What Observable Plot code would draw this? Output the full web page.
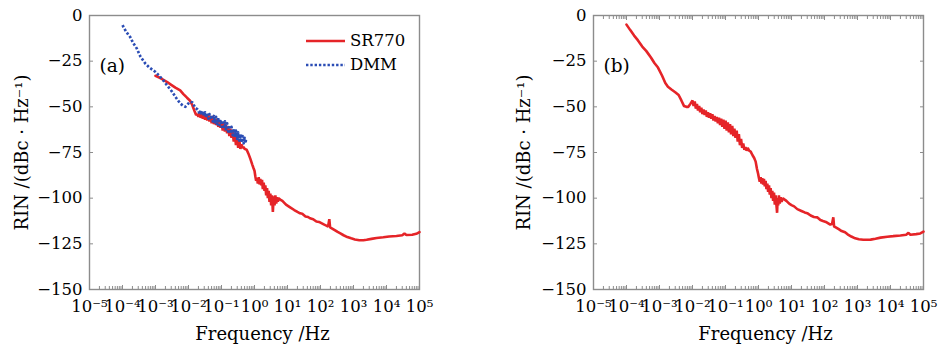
<!DOCTYPE html>
<html><head><meta charset="utf-8">
<script src="https://cdn.jsdelivr.net/npm/d3@7"></script>
<script src="https://cdn.jsdelivr.net/npm/@observablehq/plot@0.6"></script>
<style>
body{margin:0;background:#fff;}
#wrap{position:relative;width:940px;height:348px;display:flex;}
#wrap svg{display:block;}
.legend{position:absolute;font-family:"DejaVu Serif";font-size:16.5px;color:#000;line-height:24px;}
.legend div{display:flex;align-items:center;}
.legend svg{margin-right:3px;}
</style></head><body><div id="wrap"></div>
<script>
const xTicks = [1e-5,1e-4,1e-3,1e-2,1e-1,1e0,1e1,1e2,1e3,1e4,1e5];
const xTickLabels = ["10⁻⁵","10⁻⁴","10⁻³","10⁻²","10⁻¹","10⁰","10¹","10²","10³","10⁴","10⁵"];
const yTicks = [0,-25,-50,-75,-100,-125,-150];
const yTickLabels = ["0","−25","−50","−75","−100","−125","−150"];
const seriesNames = ["SR770","DMM"];
const panelTags = ["(a)","(b)"];
const xLabel = "Frequency /Hz";
const yLabel = "RIN /(dBc · Hz⁻¹)";

// [frequency Hz, RIN dBc/Hz]
const sr770a = [[1e-3,-33],[1.5e-3,-34.5],[2.2e-3,-36.3],[3e-3,-38],[4e-3,-39.5],[5.6e-3,-41],[7e-3,-43],[9e-3,-45],[1.1e-2,-46.5],[1.3e-2,-49],[1.5e-2,-52],[1.7e-2,-54.5],[1.85e-2,-54],
[0.02,-55.5],[0.0216,-53.5],[0.0233,-56],[0.0252,-54],[0.0272,-56.5],[0.0294,-54.5],[0.0317,-57],[0.0343,-55],[0.037,-57.5],[0.04,-54.5],[0.0432,-58],[0.0466,-55.5],[0.0504,-59],[0.0544,-55],[0.0588,-59.5],[0.0635,-57],[0.0686,-60],[0.074,-56.5],[0.08,-61],[0.0864,-58],[0.0933,-61.5],[0.1008,-58.5],[0.1088,-63],[0.1175,-59],[0.127,-63.5],[0.137,-60],[0.148,-64.5],[0.16,-61],[0.173,-66],[0.186,-62],[0.201,-67],[0.218,-63.5],[0.235,-69],[0.254,-64.5],[0.274,-71],[0.296,-66],[0.32,-72.5],[0.345,-68],[0.373,-73],[0.403,-70.5],[0.435,-72.5],[0.47,-72],[0.5,-73],
[0.58,-73.5],[0.65,-75.5],[0.75,-78.5],[0.85,-81.5],[0.93,-83.5],
[1.0,-85],[1.06,-88],[1.12,-90.5],[1.19,-89],[1.26,-92],[1.34,-88.5],[1.42,-92.5],[1.5,-89.5],[1.6,-93],[1.69,-90],[1.79,-95],[1.9,-91.5],[2.01,-96],[2.13,-93],[2.26,-98.5],[2.4,-94.5],[2.54,-100],[2.69,-96],[2.85,-102],[3.02,-97.5],[3.2,-104],[3.4,-98.5],[3.6,-107.5],[3.82,-99],[4.05,-104],[4.29,-98.5],[4.55,-103],[4.82,-99.5],[5.1,-102],[5.4,-100],[6.0,-100.8],[7.0,-101.5],
[9,-103.5],[12,-105],[16,-106.5],[20,-107.5],[24,-108.3],[28,-108.5],[35,-110],[42,-110.3],[48,-111],[60,-111.5],[75,-112.8],[90,-113],[110,-113.8],[130,-114.5],[150,-115],[170,-115.5],[185,-111.5],[195,-116],[220,-116.5],[270,-117.5],[330,-118.5],[400,-119.3],[500,-120.3],[650,-121.3],[850,-122],[1100,-122.6],[1500,-123],[2000,-123],[2500,-122.8],[3500,-122.3],[5000,-121.8],[8000,-121.4],[12000,-121],[20000,-120.7],[30000,-120.3],[35000,-119.3],[40000,-120.2],[60000,-120],[80000,-119.5],[100000,-118.6]];

const dmmA = [[1e-4,-5.3],[1.3e-4,-9],[1.7e-4,-11.7],[2.1e-4,-15],[2.7e-4,-18],[3.5e-4,-22.5],[4.9e-4,-26.3],[6.5e-4,-28.5],[9.8e-4,-30.8],[1.3e-3,-33],[1.7e-3,-35.4],[2.3e-3,-38.5],[3.2e-3,-41.8],[4.2e-3,-45],[5.6e-3,-48.2],[7e-3,-49.5],[8e-3,-50],[9.5e-3,-48.5],[1.1e-2,-47.3],[1.3e-2,-47.5],[1.6e-2,-50.5],[1.9e-2,-51.5],
[0.02,-52],[0.0216,-54],[0.0233,-52],[0.0252,-54.5],[0.0272,-52.5],[0.0294,-55],[0.0317,-53],[0.0343,-56],[0.037,-53.5],[0.04,-56.5],[0.0432,-54],[0.0466,-57],[0.0504,-54.5],[0.0544,-58],[0.0588,-55],[0.0635,-58.5],[0.0686,-55.5],[0.074,-59.5],[0.08,-56],[0.0864,-60],[0.0933,-57],[0.1008,-61],[0.1088,-57.5],[0.1175,-62],[0.127,-58],[0.137,-63],[0.148,-59],[0.16,-63.5],[0.173,-60],[0.186,-64.5],[0.201,-61],[0.218,-65.5],[0.235,-62],[0.254,-66.5],[0.274,-63],[0.296,-67.5],[0.32,-64],[0.345,-68.5],[0.373,-65],[0.403,-69.5],[0.435,-66],[0.47,-70],[0.5,-67],[0.53,-70],[0.55,-68]];

const sr770b = [[1e-4,-5],[1.3e-4,-8],[1.7e-4,-11],[2.2e-4,-13.5],[3e-4,-17],[4e-4,-19.5],[5.5e-4,-23],[7e-4,-26],[9e-4,-28.5],[1.2e-3,-33],[1.5e-3,-37],[1.8e-3,-39],[2.3e-3,-40.5],[3e-3,-42],[3.8e-3,-43.5],[4.6e-3,-46.5],[5.5e-3,-49.5],[6.5e-3,-50],[7.5e-3,-50],
[0.0085,-48.5],[0.01,-46.5],[0.0108,-49.5],[0.0117,-47],[0.0126,-51],[0.0136,-48.5],[0.0147,-52],[0.0159,-49.5],[0.0171,-53],[0.0185,-50.5],[0.02,-54],[0.0216,-51.5],[0.0233,-54.5],[0.0252,-52],[0.0272,-55.5],[0.0294,-53],[0.0317,-56],[0.0343,-53.5],[0.037,-56.5],[0.04,-54],[0.0432,-57.5],[0.0466,-55],[0.0504,-58],[0.0544,-55.5],[0.0588,-59],[0.0635,-56],[0.0686,-60],[0.074,-56.5],[0.08,-61],[0.0864,-57],[0.0933,-62],[0.1008,-57.5],[0.1088,-63],[0.1175,-58.5],[0.127,-64],[0.137,-59.5],[0.148,-65],[0.16,-60.5],[0.173,-66],[0.186,-62],[0.201,-67],[0.218,-63],[0.235,-69],[0.254,-65],[0.274,-71],[0.296,-67.5],[0.32,-72.5],[0.345,-70],[0.373,-73.5],[0.403,-72],[0.435,-74],[0.47,-72.5],[0.52,-74],[0.58,-74.5],
[0.66,-76.5],[0.74,-78],[0.82,-80],[0.9,-84],
[0.97,-86.5],[1.03,-89],[1.09,-91],[1.16,-88.5],[1.23,-92],[1.3,-89],[1.38,-92.5],[1.46,-89.5],[1.55,-93.5],[1.64,-90.5],[1.74,-95],[1.85,-92],[1.96,-96.5],[2.08,-93],[2.2,-98],[2.33,-94.5],[2.47,-100],[2.62,-96],[2.78,-101.5],[2.95,-97],[3.12,-103.5],[3.31,-98.5],[3.5,-104],[3.66,-108],[3.8,-100],[3.95,-104],[4.15,-98.5],[4.4,-103],[4.7,-99.5],[5,-102],[5.5,-100],[6.2,-100.8],[7,-101.5],
[8.5,-103],[10,-103.8],[12,-104.5],[15,-106],[20,-107],[25,-107.8],[30,-108.2],[38,-109.5],[48,-110.3],[60,-110.5],[75,-112],[90,-112.5],[110,-113],[130,-113.8],[150,-114.5],[170,-114],[185,-110.5],[195,-115.5],[220,-116],[270,-117],[330,-118],[420,-118.7],[500,-119.8],[650,-121],[850,-122],[1100,-122.5],[1500,-122.8],[2000,-122.8],[2500,-122.7],[3500,-122.2],[5000,-121.6],[8000,-121.1],[12000,-120.8],[20000,-120.4],[30000,-120],[35000,-119],[40000,-120],[60000,-119.7],[80000,-119.3],[100000,-118.3]];

const RED = "#e52428", BLUE = "#2b4db5", FRAME = "#8c8c8c";
const toRows = arr => arr.map(([f, rin]) => ({f, rin}));

const minorTicks = [];
for (let e = -5; e < 5; e++) for (let m = 2; m < 10; m++) minorTicks.push(m * Math.pow(10, e));

function panel({tag, lines, marginLeft, marginRight, yLabelDx, xLabelDx, boxTicks}) {
  const font = "DejaVu Serif";
  const tickMarks = [
    Plot.axisX(minorTicks, {anchor: "bottom", tickSize: -3, tickFormat: () => "", stroke: FRAME, label: null}),
    Plot.axisX(xTicks, {anchor: "bottom", tickSize: -4, tickFormat: () => "", stroke: FRAME, label: null}),
    Plot.axisY(yTicks, {anchor: "left", tickSize: -4, tickFormat: () => "", stroke: FRAME, label: null})
  ];
  if (boxTicks) tickMarks.push(
    Plot.axisX(minorTicks, {anchor: "top", tickSize: -3, tickFormat: () => "", stroke: FRAME, label: null}),
    Plot.axisX(xTicks, {anchor: "top", tickSize: -4, tickFormat: () => "", stroke: FRAME, label: null}),
    Plot.axisY(yTicks, {anchor: "right", tickSize: -4, tickFormat: () => "", stroke: FRAME, label: null})
  );
  return Plot.plot({
    width: 470, height: 348,
    marginLeft, marginRight, marginTop: 15, marginBottom: 59,
    style: {fontFamily: font, fontSize: "16.5px", color: "#000", background: "transparent", overflow: "visible"},
    x: {type: "log", domain: [1e-5, 1e5]},
    y: {domain: [-150, 0]},
    marks: [
      ...tickMarks,
      Plot.axisX(xTicks, {anchor: "bottom", tickSize: 0, tickPadding: 11, tickFormat: d => xTickLabels[xTicks.indexOf(d)], label: null, fontSize: 16.5}),
      Plot.axisY(yTicks, {anchor: "left", tickSize: 0, tickPadding: 7, tickFormat: d => yTickLabels[yTicks.indexOf(d)], label: null, fontSize: 16.5}),
      Plot.frame({stroke: FRAME, strokeWidth: 1.4}),
      ...lines,
      Plot.text([tag], {frameAnchor: "top-left", dx: 10, dy: 43, fontSize: 18.5, textAnchor: "start"}),
      Plot.text([xLabel], {frameAnchor: "bottom", dy: 50, dx: xLabelDx, fontSize: 18, textAnchor: "middle"}),
      Plot.text([yLabel], {frameAnchor: "left", rotate: -90, dx: yLabelDx, fontSize: 18, textAnchor: "middle"})
    ]
  });
}

const wrap = document.getElementById("wrap");
wrap.append(panel({
  tag: panelTags[0], marginLeft: 89, marginRight: 51, yLabelDx: -67, xLabelDx: 8, boxTicks: false,
  lines: [
    Plot.line(toRows(sr770a), {x: "f", y: "rin", stroke: RED, strokeWidth: 2.6, strokeLinejoin: "miter"}),
    Plot.line(toRows(dmmA), {x: "f", y: "rin", stroke: BLUE, strokeWidth: 2.7, strokeLinecap: "butt", strokeDasharray: "2.4,1.9"})
  ]
}));
wrap.append(panel({
  tag: panelTags[1], marginLeft: 123, marginRight: 17, yLabelDx: -69, xLabelDx: 7, boxTicks: true,
  lines: [
    Plot.line(toRows(sr770b), {x: "f", y: "rin", stroke: RED, strokeWidth: 2.6, strokeLinejoin: "miter"})
  ]
}));

const legend = document.createElement("div");
legend.className = "legend";
legend.style.left = "306px";
legend.style.top = "29px";
legend.innerHTML =
  `<div><svg width="41" height="10"><line x1="0" y1="5" x2="39" y2="5" stroke="${RED}" stroke-width="2.6"/></svg>${seriesNames[0]}</div>` +
  `<div><svg width="41" height="10"><line x1="0" y1="5" x2="39" y2="5" stroke="${BLUE}" stroke-width="2.7" stroke-dasharray="2.4,1.9"/></svg>${seriesNames[1]}</div>`;
wrap.append(legend);
</script>
</body></html>
